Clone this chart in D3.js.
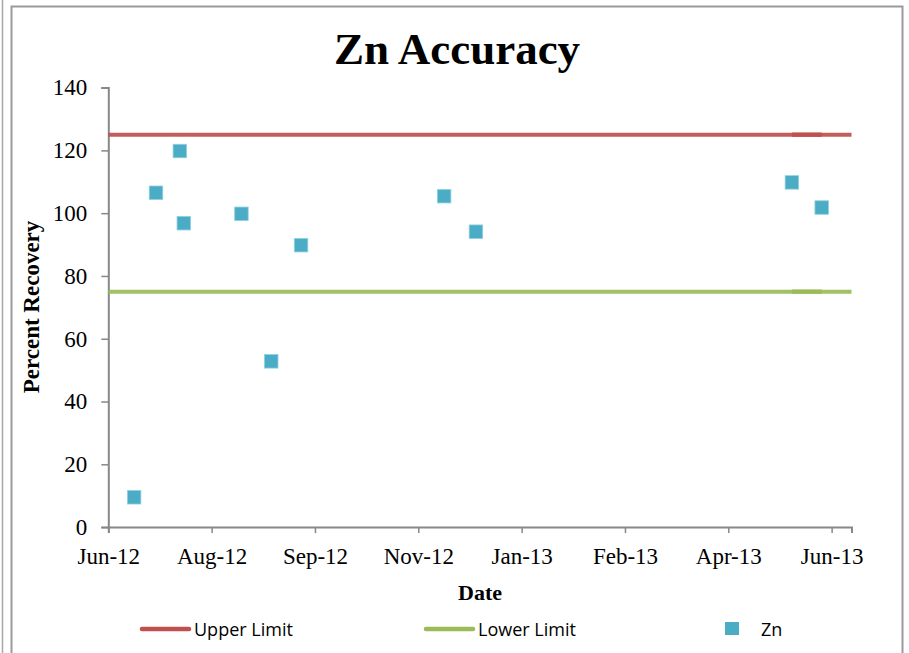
<!DOCTYPE html>
<html>
<head>
<meta charset="utf-8">
<script src="https://cdn.jsdelivr.net/npm/d3@7"></script>
<style>
  html, body { margin: 0; padding: 0; background: #fff; }
  svg { display: block; }
</style>
</head>
<body>
<div id="chart"></div>
<script>
/* Zn Accuracy - recovery scatter with upper/lower control limits. D3 + SVG only. */
(function () {
  "use strict";

  // ---------- data ----------
  var znDates  = ["2012-06-23", "2012-07-04", "2012-07-16", "2012-07-18", "2012-08-16", "2012-08-31",
                  "2012-09-15", "2012-11-26", "2012-12-12", "2013-05-20", "2013-06-04"];
  var znValues = [9.5, 106.5, 119.8, 96.8, 99.8, 52.8, 89.8, 105.4, 94.1, 109.8, 101.8];
  var upperLimit = 125, lowerLimit = 75;
  var xDomain = ["2012-06-10", "2013-06-19"];
  var xTickDates  = ["2012-06-10", "2012-08-01", "2012-09-22", "2012-11-13", "2013-01-04", "2013-02-25", "2013-04-18", "2013-06-09"];
  var xTickLabels = ["Jun-12", "Aug-12", "Sep-12", "Nov-12", "Jan-13", "Feb-13", "Apr-13", "Jun-13"];
  var yTicks = [0, 20, 40, 60, 80, 100, 120, 140];
  var legendItems = ["Upper Limit", "Lower Limit", "Zn"];

  var RED = "#c0504d", GREEN = "#9bbb59", BLUE = "#4bacc6", AXIS = "#888888";
  var SERIF = "'Liberation Serif', 'DejaVu Serif', serif";
  var SANS = "'Open Sans', 'Liberation Sans', sans-serif";

  var W = 909, H = 653;
  var parse = d3.utcParse("%Y-%m-%d");
  var svg = d3.select("#chart").append("svg").attr("width", W).attr("height", H);

  // outer frame (screenshot border + chart area border)
  svg.append("line").attr("x1", 2.5).attr("x2", 2.5).attr("y1", 0).attr("y2", H).attr("stroke", "#a6a6a6").attr("stroke-width", 1.5);
  svg.append("rect").attr("x", 11.5).attr("y", 6.5).attr("width", 891).attr("height", H + 20)
    .attr("fill", "#fff").attr("stroke", "#9a9a9a").attr("stroke-width", 2);

  var x = d3.scaleUtc().domain(xDomain.map(parse)).range([108.3, 851.5]);
  var y = d3.scaleLinear().domain([0, 140]).range([527.1, 87.6]);

  // title
  svg.append("text").attr("x", 457).attr("y", 64).attr("text-anchor", "middle")
    .attr("font-family", SERIF).attr("font-weight", "bold").attr("font-size", 45).attr("fill", "#000")
    .text("Zn Accuracy");

  // y axis
  var yAxis = d3.axisLeft(y).tickValues(yTicks).tickSize(7).tickPadding(14).tickFormat(d3.format("d"));
  var gy = svg.append("g").attr("transform", "translate(108.3,0)").call(yAxis);
  gy.select(".domain").attr("stroke", AXIS).attr("stroke-width", 2);
  gy.selectAll(".tick line").attr("stroke", AXIS).attr("stroke-width", 1.5);
  gy.selectAll(".tick text").attr("font-family", SERIF).attr("font-size", 23).attr("fill", "#000");

  // x axis
  var xAxis = d3.axisBottom(x).tickValues(xTickDates.map(parse)).tickSize(6).tickPadding(15)
    .tickFormat(function (d, i) { return xTickLabels[i]; });
  var gx = svg.append("g").attr("transform", "translate(0,527.1)").call(xAxis);
  gx.select(".domain").attr("stroke", AXIS).attr("stroke-width", 2);
  gx.selectAll(".tick line").attr("stroke", AXIS).attr("stroke-width", 1.5);
  gx.selectAll(".tick text").attr("font-family", SERIF).attr("font-size", 23).attr("fill", "#000");

  // axis titles
  svg.append("text").attr("transform", "translate(39,307) rotate(-90)").attr("text-anchor", "middle")
    .attr("font-family", SERIF).attr("font-weight", "bold").attr("font-size", 23).attr("fill", "#000")
    .text("Percent Recovery");
  svg.append("text").attr("x", 480).attr("y", 600).attr("text-anchor", "middle")
    .attr("font-family", SERIF).attr("font-weight", "bold").attr("font-size", 22).attr("fill", "#000")
    .text("Date");

  // limit lines across the plot, plus the slightly darker overlap between the last two sample dates
  var d0 = x.domain()[0], d1 = x.domain()[1];
  var lastA = parse(znDates[znDates.length - 2]), lastB = parse(znDates[znDates.length - 1]);
  [[upperLimit, RED], [lowerLimit, GREEN]].forEach(function (L) {
    svg.append("line").attr("x1", x(d0)).attr("x2", x(d1)).attr("y1", y(L[0])).attr("y2", y(L[0]))
      .attr("stroke", L[1]).attr("stroke-width", 4).attr("opacity", 0.92);
    svg.append("line").attr("x1", x(lastA)).attr("x2", x(lastB)).attr("y1", y(L[0])).attr("y2", y(L[0]))
      .attr("stroke", L[1]).attr("stroke-width", 4.3);
  });

  // Zn markers
  var pts = znDates.map(function (d, i) { return { d: parse(d), v: znValues[i] }; });
  var S = 13.5;
  svg.append("g").selectAll("rect").data(pts).join("rect")
    .attr("x", function (p) { return x(p.d) - S / 2; })
    .attr("y", function (p) { return y(p.v) - S / 2; })
    .attr("width", S).attr("height", S)
    .attr("fill", BLUE).attr("stroke", "#8fd0e0").attr("stroke-width", 0.8);

  // legend
  var lg = svg.append("g").attr("font-family", SANS).attr("font-size", 18).attr("fill", "#000");
  var ly = 629;
  lg.append("line").attr("x1", 142).attr("x2", 189).attr("y1", ly).attr("y2", ly)
    .attr("stroke", RED).attr("stroke-width", 4.5).attr("stroke-linecap", "round");
  lg.append("text").attr("x", 194).attr("y", ly + 6.5).text(legendItems[0]);
  lg.append("line").attr("x1", 426).attr("x2", 473).attr("y1", ly).attr("y2", ly)
    .attr("stroke", GREEN).attr("stroke-width", 4.5).attr("stroke-linecap", "round");
  lg.append("text").attr("x", 478).attr("y", ly + 6.5).text(legendItems[1]);
  lg.append("rect").attr("x", 725).attr("y", ly - 7).attr("width", 14).attr("height", 13).attr("fill", BLUE);
  lg.append("text").attr("x", 761).attr("y", ly + 6.5).text(legendItems[2]);
})();
</script>
</body>
</html>
